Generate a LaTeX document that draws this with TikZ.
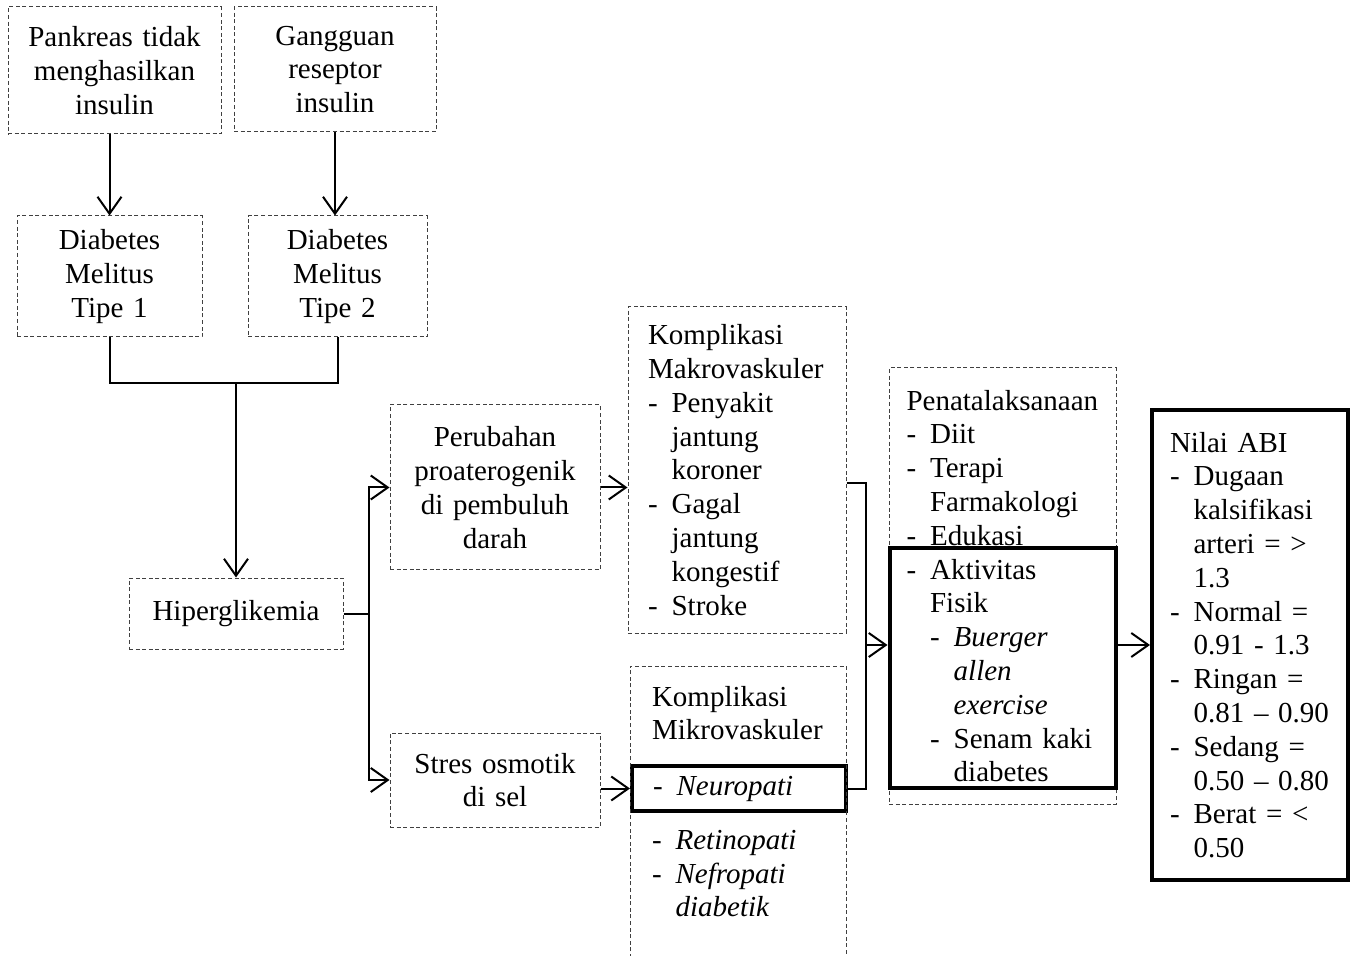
\documentclass[tikz,border=0pt]{standalone}
\usepackage{fontspec}
\setmainfont{Liberation Serif}
\usetikzlibrary{arrows.meta,positioning}

\newcommand{\fs}{\fontsize{14.5pt}{16.9pt}\selectfont}
\newcommand{\li}{\makebox[11.8pt][l]{-}}
\newcommand{\ind}{\hspace*{11.8pt}}

\begin{document}
\begin{tikzpicture}[x=0.5pt,y=-0.5pt,line width=1pt,
                    >={Straight Barb[length=8.5pt,width=12pt]},
                    dbox/.style={draw=black!75,line width=0.5pt,dash pattern=on 2pt off 1.3pt,
                                 inner sep=0pt,font=\fs},
                    tbox/.style={draw,line width=2pt,inner sep=0pt,font=\fs}]
  \useasboundingbox (0,0) rectangle (1354,956);

  % causes and types
  \node[dbox,text width=106.5pt,minimum height=63.5pt,align=center] (pank) at (114.5,70.5)
       {Pankreas tidak\\ menghasilkan\\ insulin};
  \node[dbox,text width=101pt,minimum height=62.5pt,align=center] (gang) at (335,69.5)
       {Gangguan\\ reseptor\\ insulin};
  \node[dbox,text width=92.5pt,minimum height=60.5pt,align=center] (dm1) at (109.5,276.5)
       {Diabetes\\ Melitus\\ Tipe 1};
  \node[dbox,text width=89.5pt,minimum height=60.5pt,align=center] (dm2) at (337.5,276.5)
       {Diabetes\\ Melitus\\ Tipe 2};
  \node[dbox,text width=107pt,minimum height=35.5pt,align=center] (hiper) at (236,613.5)
       {Hiperglikemia};

  % pathways
  \node[dbox,text width=105pt,minimum height=82.5pt,align=center] (perub) at (495,487.5)
       {Perubahan\\ proaterogenik\\ di pembuluh\\ darah};
  \node[dbox,text width=105pt,minimum height=47pt,align=center] (stres) at (495,780)
       {Stres osmotik\\ di sel};

  % complications
  \node[dbox,text width=89pt,inner xsep=10pt,minimum height=163pt,align=left] (makro) at (737,470)
       {Komplikasi\\ Makrovaskuler\\ \li Penyakit\\ \ind jantung\\ \ind koroner\\
        \li Gagal\\ \ind jantung\\ \ind kongestif\\ \li Stroke};
  \node[font=\fs,inner sep=0pt,align=left,anchor=north west] (mikro) at (651,685)
       {Komplikasi\\ Mikrovaskuler};
  \node[tbox,text width=86pt,inner xsep=10.5pt,minimum height=22.5pt,align=left] (neuro) at (739,788.5)
       {\li\textit{Neuropati}};
  \node[font=\fs,inner sep=0pt,align=left,anchor=north west] (mikrolist) at (651,829)
       {\li\textit{Retinopati}\\ \li\textit{Nefropati}\\ \ind\textit{diabetik}};
  \draw[draw=black!75,line width=0.5pt,dash pattern=on 2pt off 1.3pt]
       (630,958) |- (846,666) -- (846,958);

  % management
  \node[dbox,text width=96pt,inner xsep=8.75pt,minimum height=218pt,align=left] (penata) at (1002.5,586)
       {Penatalaksanaan\\ \li Diit\\ \li Terapi\\ \ind Farmakologi\\ \li Edukasi\\
        \li Aktivitas\\ \ind Fisik\\ \ind\li\textit{Buerger}\\ \ind\ind\textit{allen}\\
        \ind\ind\textit{exercise}\\ \ind\li Senam kaki\\ \ind\ind diabetes};
  \node[tbox,minimum width=113pt,minimum height=120pt] (aktiv) at (1002.5,668) {};

  \node[tbox,text width=80pt,inner xsep=9pt,minimum height=235pt,align=left] (abi) at (1250,645)
       {Nilai ABI\\ \li Dugaan\\ \ind kalsifikasi\\ \ind\mbox{arteri = >}\\ \ind 1.3\\
        \li Normal =\\ \ind\mbox{0.91 - 1.3}\\ \li Ringan =\\ \ind\mbox{0.81 -- 0.90}\\
        \li Sedang =\\ \ind\mbox{0.50 -- 0.80}\\ \li\mbox{Berat = <}\\ \ind 0.50};

  \coordinate (join)  at (236,383);
  \coordinate (split) at (369,613.5);
  \coordinate (merge) at (866,645);

  \draw[->] (dm1.north |- pank.south) -- (dm1.north);
  \draw[->] (gang.south) -- (gang.south |- dm2.north);
  \draw (dm1.south) |- (dm2.south |- join) -- (dm2.south);
  \draw[->] (join) -- (hiper.north);
  \draw (hiper.east) -- (split);
  \draw[->] (split) |- (perub.west);
  \draw[->] (split) |- (stres.west);
  \draw[->] (perub.east) -- (perub.east -| makro.west);
  \draw[->] (stres.east |- neuro.west) -- (neuro.west);
  \draw ([yshift=-6.5pt]makro.east) -| (merge) |- (neuro.east);
  \draw[->] (merge) -- (merge -| aktiv.west);
  \draw[->] (abi.west -| aktiv.east) -- (abi.west);
\end{tikzpicture}
\end{document}
